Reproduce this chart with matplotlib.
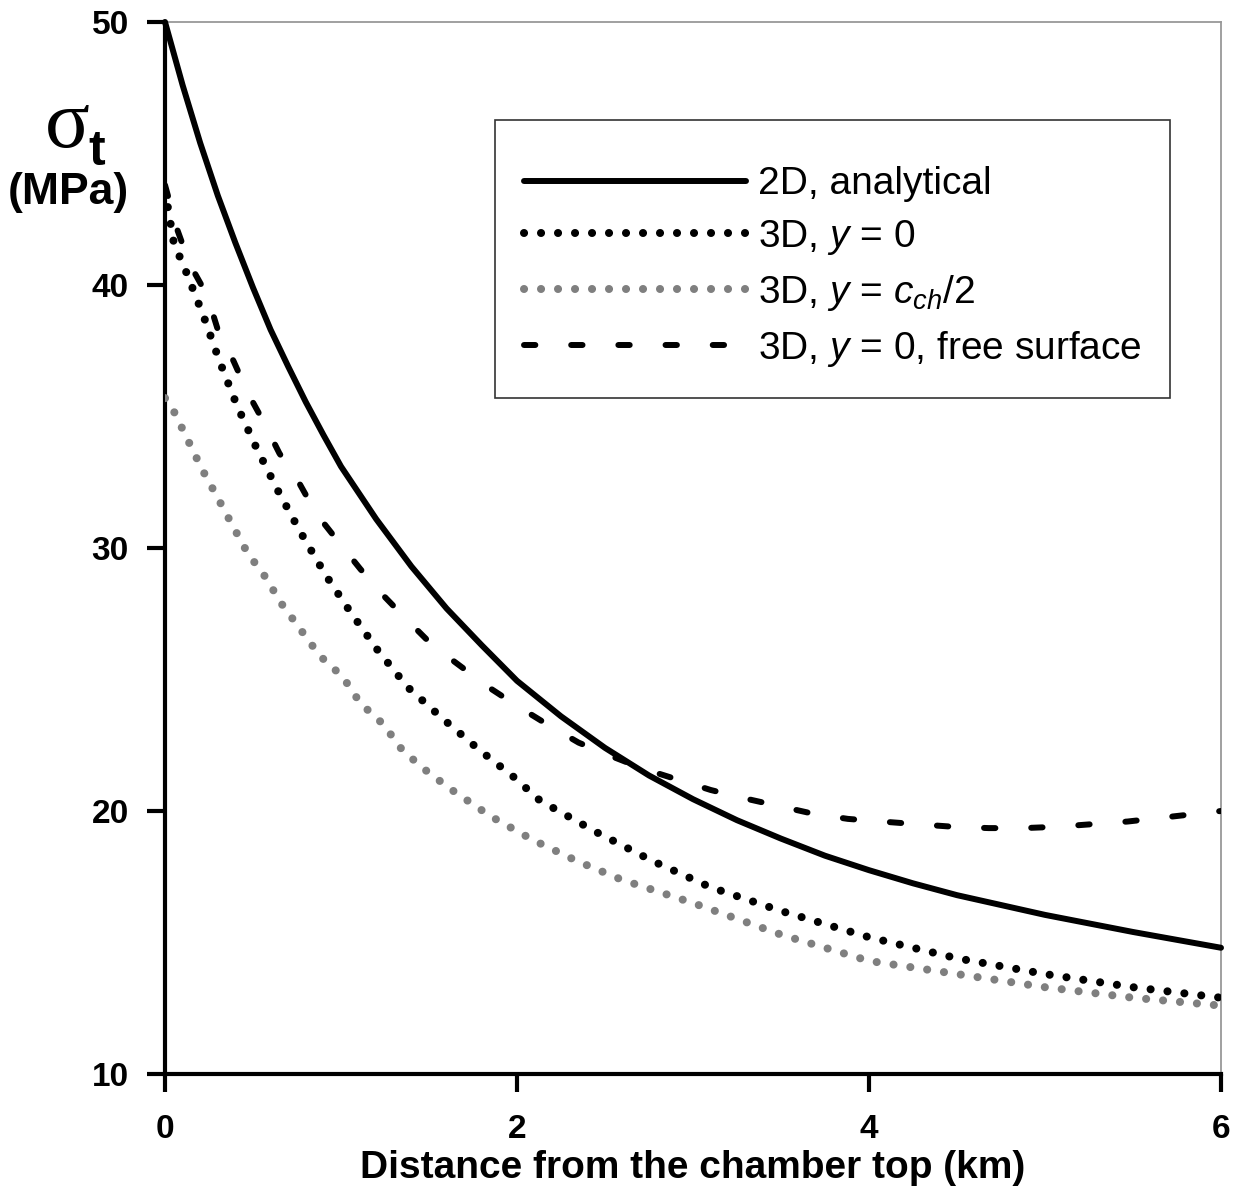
import matplotlib
matplotlib.use("Agg")
import matplotlib.pyplot as plt

plt.rcParams['font.family'] = ['Liberation Sans', 'DejaVu Sans']
plt.rcParams['mathtext.fontset'] = 'custom'
plt.rcParams['mathtext.rm'] = 'Liberation Sans'
plt.rcParams['mathtext.it'] = 'Liberation Sans:italic'
plt.rcParams['mathtext.bf'] = 'Liberation Sans:bold'

# ---- data ----
x_2d = [0, 0.1, 0.2, 0.3, 0.4, 0.5, 0.6, 0.7, 0.8, 0.9, 1.0, 1.2, 1.4, 1.6, 1.8, 2.0,
        2.25, 2.5, 2.75, 3.0, 3.25, 3.5, 3.75, 4.0, 4.25, 4.5, 5.0, 5.5, 6.0]
s_2d = [50.0, 47.6, 45.4, 43.4, 41.6, 39.9, 38.3, 36.9, 35.55, 34.3, 33.1, 31.1, 29.3, 27.7, 26.3, 24.95,
        23.6, 22.4, 21.35, 20.45, 19.65, 18.95, 18.3, 17.75, 17.25, 16.8, 16.05, 15.4, 14.8]

x_3d0 = [0, 0.05, 0.12, 0.22, 0.31, 0.41, 0.52, 0.64, 0.77, 0.91, 1.05, 1.21, 1.38, 1.58, 1.79,
         1.98, 2.13, 2.45, 2.77, 3.10, 3.5, 4.0, 4.5, 5.0, 5.5, 6.0]
s_3d0 = [43.6, 41.6, 40.5, 38.8, 37.1, 35.4, 33.8, 32.2, 30.6, 29.0, 27.6, 26.1, 24.7, 23.5, 22.3,
         21.3, 20.4, 19.2, 18.1, 17.1, 16.2, 15.2, 14.4, 13.8, 13.3, 12.9]

x_3dc = [0, 0.05, 0.13, 0.21, 0.30, 0.38, 0.47, 0.57, 0.66, 0.77, 0.88, 1.01, 1.11, 1.24, 1.35,
         1.49, 1.63, 1.85, 2.09, 2.34, 2.59, 3.0, 3.5, 4.0, 4.5, 5.0, 5.5, 6.0]
s_3dc = [35.7, 35.2, 34.1, 33.0, 31.9, 30.9, 29.8, 28.9, 27.9, 26.9, 25.9, 25.1, 24.1, 23.3, 22.3,
         21.5, 20.8, 19.8, 18.9, 18.1, 17.4, 16.5, 15.3, 14.3, 13.8, 13.3, 12.9, 12.6]

x_free = [0, 0.07, 0.14, 0.24, 0.30, 0.39, 0.47, 0.56, 0.65, 0.76, 0.86, 0.99, 1.11, 1.24, 1.37,
          1.52, 1.68, 1.84, 2.0, 2.17, 2.35, 2.53, 2.72, 2.91, 3.10, 3.28, 3.48, 3.68, 3.88, 4.07,
          4.27, 4.48, 4.68, 4.88, 5.07, 5.27, 5.47, 5.67, 5.87, 6.0]
s_free = [43.8, 42.1, 40.8, 39.6, 38.3, 37.1, 35.9, 34.8, 33.6, 32.5, 31.3, 30.2, 29.2, 28.2, 27.3,
          26.3, 25.5, 24.7, 24.0, 23.3, 22.6, 22.1, 21.6, 21.2, 20.8, 20.5, 20.2, 19.9, 19.7, 19.6,
          19.5, 19.4, 19.35, 19.35, 19.4, 19.5, 19.6, 19.75, 19.9, 20.0]

labels = ['2D, analytical', '3D, $y$ = 0', '3D, $y$ = $c_{ch}$/2', '3D, $y$ = 0, free surface']
x_ticks = [0, 2, 4, 6]
y_ticks = [10, 20, 30, 40, 50]

# ---- figure ----
W, H = 1236, 1194
fig = plt.figure(figsize=(W / 100, H / 100), dpi=100)
ax = fig.add_axes([165 / W, 1 - 1074 / H, (1221 - 165) / W, (1074 - 22) / H])

gray = '#7f7f7f'
ax.plot(x_2d, s_2d, color='black', lw=4.3, solid_capstyle='round', solid_joinstyle='round',
        label=labels[0], clip_on=False, zorder=5)
ax.plot(x_3d0, s_3d0, color='black', lw=5.8, linestyle=(0, (0.01, 2.1)), dash_capstyle='round',
        label=labels[1], zorder=4)
ax.plot(x_3dc, s_3dc, color=gray, lw=5.8, linestyle=(0, (0.01, 2.1)), dash_capstyle='round',
        label=labels[2], zorder=3)
ax.plot(x_free, s_free, color='black', lw=4.3, linestyle=(0, (1.9, 6.0)), dash_capstyle='round',
        label=labels[3], zorder=4)

ax.set_xlim(0, 6)
ax.set_ylim(10, 50)
ax.set_xticks(x_ticks)
ax.set_yticks(y_ticks)
ax.set_xticklabels([str(v) for v in x_ticks], fontsize=24, fontweight='bold')
ax.set_yticklabels([str(v) for v in y_ticks], fontsize=24, fontweight='bold')
ax.tick_params(axis='both', direction='out', length=13, width=3, color='black')
ax.tick_params(axis='y', pad=13)
ax.tick_params(axis='x', pad=16)

for s in ['left', 'bottom']:
    ax.spines[s].set_linewidth(3)
    ax.spines[s].set_color('black')
for s in ['top', 'right']:
    ax.spines[s].set_linewidth(1.3)
    ax.spines[s].set_color('#999999')

ax.set_xlabel('Distance from the chamber top (km)', fontsize=28, fontweight='bold', va='top')
ax.xaxis.set_label_coords(0.5, -0.072)

# y-axis label: sigma_t (MPa)
fig.text(67 / W, 1 - 147 / H, 'σ', fontsize=60, family=['Liberation Serif', 'DejaVu Serif'],
         ha='center', va='baseline')
fig.text(88 / W, 1 - 165 / H, 't', fontsize=36, fontweight='bold', ha='left', va='baseline')
fig.text(68 / W, 1 - 193 / H, '(MPa)', fontsize=32, fontweight='bold', ha='center', va='center')

leg = ax.legend(loc='upper left', bbox_to_anchor=(495 / W, 1 - 120 / H), bbox_transform=fig.transFigure,
                fontsize=28, frameon=True, fancybox=False, borderpad=0.75, labelspacing=0.41,
                handlelength=5.7, handletextpad=0.3, borderaxespad=0,
                title=' ', title_fontsize=1)
frame = leg.get_frame()
frame.set_edgecolor('#333333')
frame.set_linewidth(1.2)
frame.set_alpha(1)

fig.savefig('out.png', dpi=100, facecolor='white')
